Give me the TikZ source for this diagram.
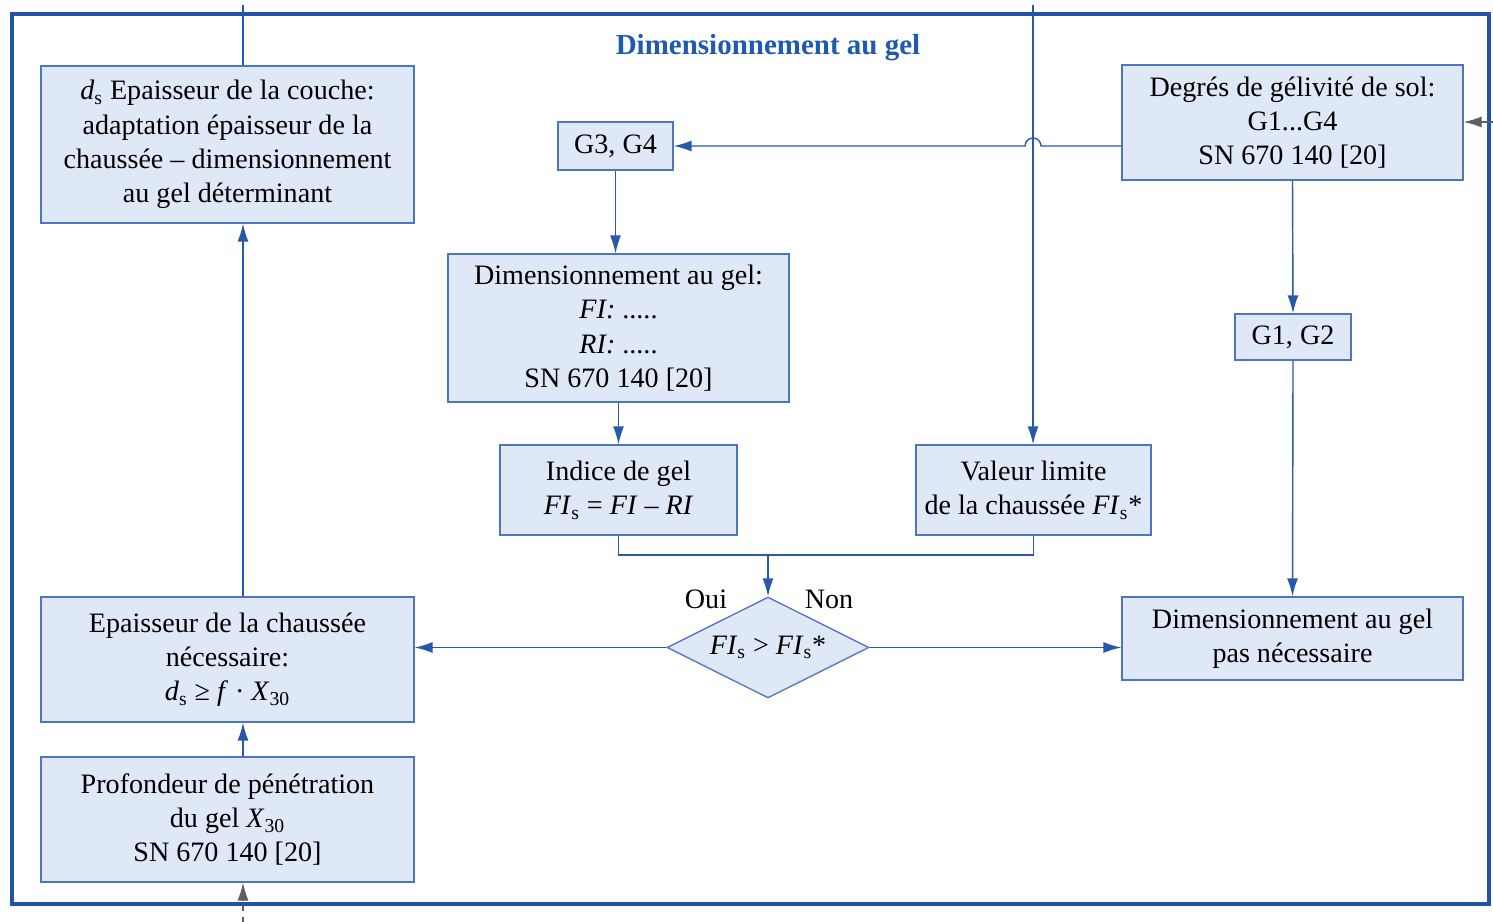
\documentclass[tikz,border=0pt]{standalone}
\usepackage{fontspec}
\setmainfont{Liberation Serif}
\usetikzlibrary{arrows.meta,positioning,shapes.geometric,calc}
\definecolor{framec}{RGB}{33,84,164}
\definecolor{boxfill}{RGB}{223,232,246}
\definecolor{boxline}{RGB}{78,118,192}
\definecolor{lineblue}{RGB}{40,88,170}
\definecolor{titlec}{RGB}{30,90,175}
\definecolor{greyarr}{RGB}{95,95,95}

\begin{document}
\begin{tikzpicture}[x=0.02cm,y=-0.02cm,every node/.style={font=\fontsize{16}{19.5}\selectfont},
  box/.style={draw=boxline,fill=boxfill,line width=.75pt,align=center,inner sep=0pt},
  link/.style={draw=lineblue,line width=.8pt},
  conn/.style={link,-{Latex[length=3.6mm,width=2.2mm]}},
  inarr/.style={draw=greyarr,line width=.7pt,-{Latex[length=3.6mm,width=2.2mm]}}]
\useasboundingbox (0,0) rectangle (1493,922);
\draw[framec,line width=2pt] (12,14) rectangle (1489,904);
\node[font=\fontsize{16.5}{19}\selectfont\bfseries,text=titlec] (title) at (768,48) {Dimensionnement au gel};
% boites
\node[box,minimum width=7.46cm,minimum height=3.14cm] (ds) at (227.5,144.5)
  {\textit{d}\textsubscript{s} Epaisseur de la couche:\\adaptation épaisseur de la\\chaussée – dimensionnement\\au gel déterminant};
\node[box,minimum width=2.30cm,minimum height=0.96cm] (g34) at (615.5,146) {G3, G4};
\node[box,minimum width=6.82cm,minimum height=2.30cm] (deg) at (1292.5,122.5)
  {Degrés de gélivité de sol:\\G1...G4\\SN 670 140 [20]};
\node[box,minimum width=6.82cm,minimum height=2.96cm] (dimgel) at (618.5,328)
  {Dimensionnement au gel:\\\textit{FI:} .....\\\textit{RI:} .....\\SN 670 140 [20]};
\node[box,minimum width=2.32cm,minimum height=0.92cm] (g12) at (1293,337) {G1, G2};
\node[box,minimum width=4.74cm,minimum height=1.80cm] (indice) at (618.5,490)
  {Indice de gel\\\textit{FI}\textsubscript{s} = \textit{FI} – \textit{RI}};
\node[box,minimum width=4.70cm,minimum height=1.80cm] (valeur) at (1033.5,490)
  {Valeur limite\\de la chaussée \textit{FI}\textsubscript{s}*};
\node[box,shape=diamond,aspect=2,minimum width=4.04cm,minimum height=2.02cm] (dia) at (768,647.5)
  {\textit{FI}\textsubscript{s} > \textit{FI}\textsubscript{s}*};
\node[box,minimum width=7.46cm,minimum height=2.50cm] (ep) at (227.5,659.5)
  {Epaisseur de la chaussée\\nécessaire:\\\textit{d}\textsubscript{s} ≥ \textit{f} · \textit{X}\textsubscript{30}};
\node[box,minimum width=6.82cm,minimum height=1.66cm] (pasnec) at (1292.5,638.5)
  {Dimensionnement au gel\\pas nécessaire};
\node[box,minimum width=7.46cm,minimum height=2.50cm] (prof) at (227.5,819.5)
  {Profondeur de pénétration\\du gel \textit{X}\textsubscript{30}\\SN 670 140 [20]};
\node (oui) at (706,599) {Oui};
\node (non) at (829,599) {Non};
% liaisons
\coordinate (topL) at (243,5);
\coordinate (topR) at (1033,5);
\coordinate (botL) at (243,922);
\coordinate (inR) at (1493,122);
\coordinate (join) at (768,555);
\draw[link] (topL) -- (topL |- ds.north);
\draw[conn] (topL |- ep.north) -- (topL |- ds.south);
\draw[conn] (topL |- prof.north) -- (topL |- ep.south);
\draw[inarr,dashed] (botL) -- (botL |- prof.south);
\draw[inarr] (inR) -- (inR -| deg.east);
\draw[conn] (g34.east -| deg.west) -- ($(g34.east -| topR)+(8,0)$)
  arc[start angle=0,end angle=180,radius=0.16cm] -- (g34.east);
\draw[conn] (topR) -- (topR |- valeur.north);
\draw[conn] (g34.south) -- (g34.south |- dimgel.north);
\draw[conn] (dimgel.south) -- (indice.north);
\draw[conn] (deg.south) -- (g12.north);
\draw[conn] (g12.south) -- (pasnec.north);
\draw[link] (indice.south) |- (join) -| (valeur.south);
\draw[conn] (join) -- (dia.north);
\draw[conn] (dia.west) -- (dia.west -| ep.east);
\draw[conn] (dia.east) -- (dia.east -| pasnec.west);
\end{tikzpicture}
\end{document}
